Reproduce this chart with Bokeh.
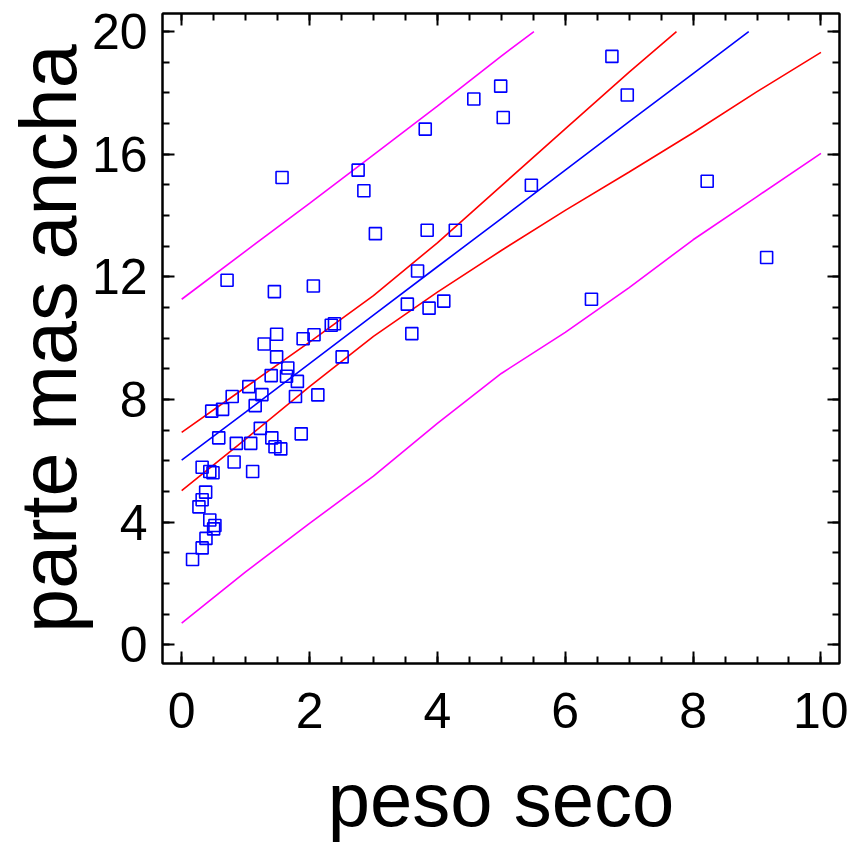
from bokeh.plotting import figure
from bokeh.models import LinearAxis, Range1d, SingleIntervalTicker, CustomJSTickFormatter
from bokeh.embed import file_html
from bokeh.resources import INLINE

# ---- data ----
peso_seco = [2.39, 2.34, 1.485, 1.29, 1.90, 2.07, 1.485, 2.51, 1.66, 1.40, 1.64, 1.81,
             1.05, 1.255, 0.79, 1.78, 2.13, 1.15, 0.64, 0.47, 1.23, 0.58, 1.41, 0.855,
             1.08, 1.46, 1.55, 1.87, 0.82, 1.11, 0.32, 0.44, 0.49, 0.375, 0.32, 0.27,
             0.44, 0.52, 0.50, 0.38, 0.32, 0.17,
             0.71, 1.45, 1.57, 2.06, 2.76, 2.85, 3.03, 3.69, 3.81, 3.84, 4.28, 3.53,
             3.87, 4.10, 3.60, 4.57, 4.99, 5.03, 5.47, 6.73, 6.97, 6.41, 8.22, 9.15]
parte_mas_ancha = [10.47, 10.42, 10.13, 9.81, 9.98, 10.11, 9.39, 9.39, 9.03, 8.78, 8.76, 8.59,
                   8.42, 8.16, 8.10, 8.10, 8.15, 7.80, 7.68, 7.62, 7.06, 6.75, 6.75, 6.57,
                   6.57, 6.46, 6.39, 6.88, 5.96, 5.65, 5.79, 5.65, 5.61, 4.98, 4.73, 4.50,
                   4.07, 3.89, 3.78, 3.47, 3.16, 2.78,
                   11.89, 11.52, 15.24, 11.70, 15.48, 14.81, 13.41, 12.19, 16.82, 13.52, 13.52, 11.11,
                   10.98, 11.21, 10.15, 17.80, 18.22, 17.20, 14.99, 19.19, 17.93, 11.27, 15.12, 12.63]

# fitted line
fit_x = [0, 1, 2, 3, 4, 5, 6, 7, 8, 8.87]
fit_y = [6.02, 7.59, 9.17, 10.75, 12.33, 13.90, 15.48, 17.06, 18.63, 20.0]
# confidence limits (red)
ucl_x = [0, 1, 2, 3, 4, 5, 6, 7, 7.74]
ucl_y = [6.93, 8.40, 9.87, 11.39, 13.11, 14.97, 16.83, 18.68, 20.0]
lcl_x = [0, 1, 2, 3, 4, 5, 6, 7, 8, 9, 10]
lcl_y = [5.03, 6.71, 8.42, 10.06, 11.50, 12.86, 14.17, 15.42, 16.70, 18.04, 19.32]
# prediction limits (magenta)
upl_x = [0, 1, 2, 3, 4, 5, 5.51]
upl_y = [11.27, 12.84, 14.40, 15.98, 17.57, 19.20, 20.0]
lpl_x = [0, 1, 2, 3, 4, 5, 6, 7, 8, 9, 10]
lpl_y = [0.71, 2.38, 3.96, 5.50, 7.22, 8.85, 10.19, 11.65, 13.21, 14.62, 16.03]

x_title = "peso seco"
y_title = "parte mas ancha"

FONT = "Liberation Sans"

p = figure(frame_width=677, frame_height=650, output_backend="svg", toolbar_location=None,
           x_range=Range1d(-0.30, 10.29), y_range=Range1d(-0.61, 20.59),
           x_axis_location=None, y_axis_location=None,
           min_border_left=154, min_border_right=9, min_border_top=13, min_border_bottom=176)
p.grid.grid_line_color = None
p.outline_line_color = "black"
p.outline_line_width = 2
p.background_fill_color = "white"
p.border_fill_color = "white"

blank = CustomJSTickFormatter(code="return ''")


def make_axis(interval, label=None, show_labels=True, label_size="76px"):
    ax = LinearAxis(ticker=SingleIntervalTicker(interval=interval, num_minor_ticks=4))
    ax.axis_line_width = 2
    ax.axis_line_color = "black"
    ax.major_tick_line_width = 2
    ax.minor_tick_line_width = 2
    ax.major_tick_in = 12
    ax.major_tick_out = 0
    ax.minor_tick_in = 7
    ax.minor_tick_out = 0
    ax.major_label_text_font = FONT
    ax.major_label_text_color = "black"
    ax.major_label_text_font_size = "50px"
    if not show_labels:
        ax.formatter = blank
        ax.major_label_standoff = 0
    if label:
        ax.axis_label = label
        ax.axis_label_text_font = FONT
        ax.axis_label_text_font_size = label_size
        ax.axis_label_text_font_style = "normal"
        ax.axis_label_text_color = "black"
    return ax


xb = make_axis(2, x_title)
xb.major_label_standoff = 29
xb.axis_label_standoff = 26
p.add_layout(xb, "below")
p.add_layout(make_axis(2, show_labels=False), "above")

yl = make_axis(4, y_title, label_size="79px")
yl.major_label_standoff = 15
yl.axis_label_standoff = -4
p.add_layout(yl, "left")
p.add_layout(make_axis(4, show_labels=False), "right")

lw = 1.6
p.line(lpl_x, lpl_y, line_color="#FF00FF", line_width=lw)
p.line(upl_x, upl_y, line_color="#FF00FF", line_width=lw)
p.line(lcl_x, lcl_y, line_color="#FF0000", line_width=lw)
p.line(ucl_x, ucl_y, line_color="#FF0000", line_width=lw)
p.line(fit_x, fit_y, line_color="#0000FF", line_width=lw)

p.scatter(peso_seco, parte_mas_ancha, marker="square", size=12,
          fill_color=None, line_color="#0000FF", line_width=1.6)

open("out.html", "w").write(file_html(p, INLINE))
